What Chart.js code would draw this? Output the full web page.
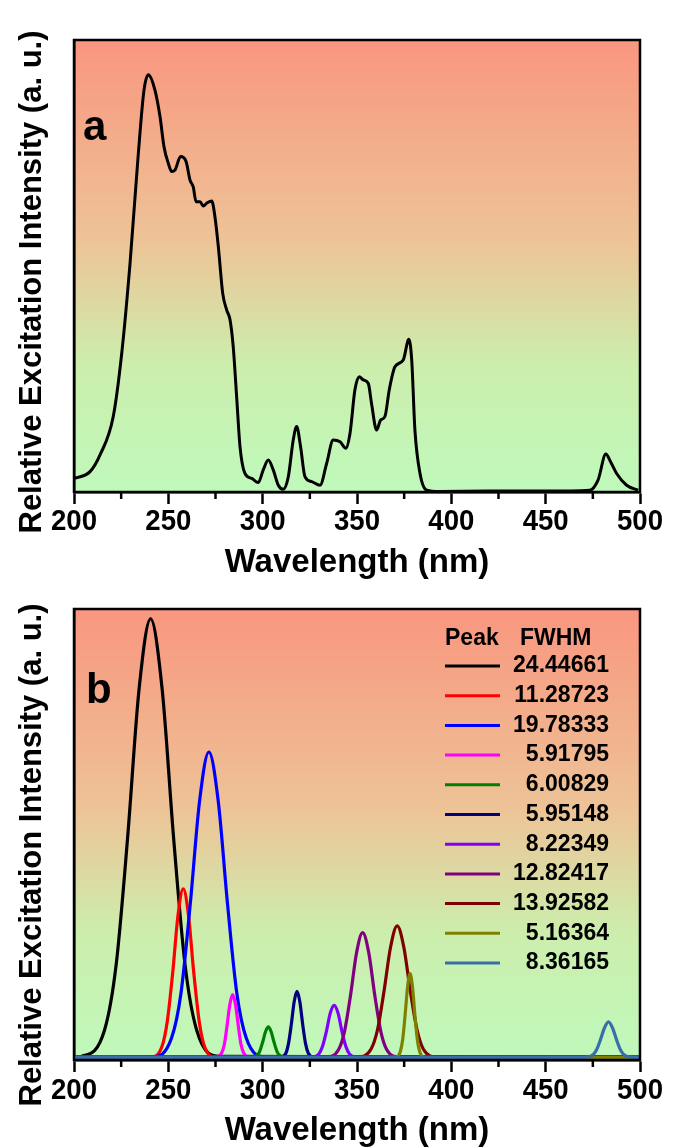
<!DOCTYPE html>
<html>
<head>
<meta charset="utf-8">
<script src="https://cdn.jsdelivr.net/npm/chart.js@4.4.1/dist/chart.umd.min.js"></script>
<style>
html, body { margin: 0; padding: 0; background: #fff; overflow: hidden; }
#wrapA { position: absolute; left: 0; top: 0; width: 680px; height: 590px; }
#wrapB { position: absolute; left: 0; top: 590px; width: 680px; height: 580px; }
</style>
</head>
<body>
<div id="wrapA"><canvas id="chartA" width="680" height="590"></canvas></div>
<div id="wrapB"><canvas id="chartB" width="680" height="580"></canvas></div>
<script>
// panel a: measured excitation spectrum
const waveA = [200, 208.5, 213.8, 220.8, 225.3, 229.7, 234.1, 237.1, 239.4, 242.9, 245.6, 247.7, 250.0, 251.8, 253.5, 256.5, 259.4, 261.5, 263.2, 264.7, 266.8, 268.5, 270.6, 273.0, 274.7, 276.5, 278.8, 280.9, 282.7, 284.4, 286.2, 288.0, 290.6, 294.2, 297.7, 300.3, 303.0, 305.6, 308.3, 310.9, 313.6, 316.2, 318.0, 320.1, 322.4, 326.0, 330.4, 333.9, 337.4, 341.0, 344.1, 346.3, 348.9, 351.2, 353.3, 356.0, 357.7, 360.4, 362.5, 364.8, 367.1, 370.1, 374.5, 377.5, 379.0, 380.7, 383.4, 386.9, 393.9, 420, 450, 473.4, 477.8, 481.9, 484.4, 487.6, 492.9, 499];
const intensityA = [3.0, 4.5, 8.2, 16.7, 30.7, 50.6, 74.9, 88.9, 92.3, 88.9, 83.0, 76.4, 72.7, 70.9, 71.2, 74.2, 73.1, 69.0, 67.5, 64.2, 64.2, 63.3, 64.0, 64.4, 60.9, 54.3, 44.0, 40.3, 38.1, 32.1, 21.1, 10.0, 4.1, 3.0, 2.1, 4.9, 7.1, 4.9, 1.5, 0.6, 3.4, 11.5, 14.5, 10.0, 3.4, 2.3, 1.5, 6.3, 11.5, 11.1, 9.7, 13.0, 22.6, 25.5, 24.8, 24.0, 19.6, 13.7, 15.9, 16.7, 22.6, 27.7, 29.2, 33.8, 29.2, 13.7, 4.1, 0.4, 0.1, 0.2, 0.2, 0.4, 2.7, 8.4, 6.7, 4.1, 1.5, 0.4];

// panel b: fitted peaks, [wavelength, intensity]
const fitPeak1 = [[200, 0], [203.9, 0.2], [216.2, 6.1], [222.3, 20.5], [228.4, 48.9], [234.5, 82.2], [240.6, 97.8], [246.7, 82.2], [252.8, 48.9], [258.9, 20.5], [265.0, 6.1], [277.3, 0.2], [500, 0]];
const fitPeak2 = [[200, 0], [241.0, 0.1], [246.6, 2.4], [249.4, 7.9], [252.3, 18.8], [255.1, 31.6], [257.9, 37.6], [260.7, 31.6], [263.5, 18.8], [266.4, 7.9], [269.2, 2.4], [274.8, 0.1], [500, 0]];
const fitPeak3 = [[200, 0], [241.8, 0.1], [251.7, 4.3], [256.7, 14.3], [261.6, 34.1], [266.6, 57.3], [271.5, 68.1], [276.4, 57.3], [281.4, 34.1], [286.3, 14.3], [291.3, 4.3], [301.2, 0.1], [500, 0]];
const fitPeak4 = [[200, 0], [275.2, 0], [278.2, 0.9], [279.7, 2.9], [281.1, 7.0], [282.6, 11.8], [284.1, 14.0], [285.6, 11.8], [287.1, 7.0], [288.5, 2.9], [290.0, 0.9], [293.0, 0], [500, 0]];
const fitPeak5 = [[200, 0], [294.0, 0], [297.0, 0.4], [298.5, 1.4], [300.0, 3.4], [301.5, 5.7], [303.0, 6.8], [304.5, 5.7], [306.0, 3.4], [307.5, 1.4], [309.0, 0.4], [312.0, 0], [500, 0]];
const fitPeak6 = [[200, 0], [309.3, 0], [312.3, 0.9], [313.7, 3.1], [315.2, 7.4], [316.7, 12.4], [318.2, 14.7], [319.7, 12.4], [321.2, 7.4], [322.7, 3.1], [324.2, 0.9], [327.1, 0], [500, 0]];
const fitPeak7 = [[200, 0], [325.6, 0], [329.7, 0.7], [331.7, 2.4], [333.8, 5.8], [335.8, 9.8], [337.9, 11.6], [340.0, 9.8], [342.0, 5.8], [344.1, 2.4], [346.1, 0.7], [350.2, 0], [500, 0]];
const fitPeak8 = [[200, 0], [333.8, 0.1], [340.2, 1.7], [343.4, 5.8], [346.6, 13.9], [349.8, 23.4], [353.0, 27.8], [356.2, 23.4], [359.4, 13.9], [362.6, 5.8], [365.8, 1.7], [372.2, 0.1], [500, 0]];
const fitPeak9 = [[200, 0], [350.4, 0.1], [357.4, 1.8], [360.9, 6.2], [364.3, 14.7], [367.8, 24.6], [371.3, 29.3], [374.8, 24.6], [378.3, 14.7], [381.8, 6.2], [385.2, 1.8], [392.2, 0.1], [500, 0]];
const fitPeak10 = [[200, 0], [370.4, 0], [372.9, 1.2], [374.2, 3.9], [375.5, 9.4], [376.8, 15.7], [378.1, 18.7], [379.4, 15.7], [380.7, 9.4], [382.0, 3.9], [383.3, 1.2], [385.8, 0], [500, 0]];
const fitPeak11 = [[200, 0], [470.8, 0], [474.9, 0.5], [477.0, 1.7], [479.1, 4.0], [481.2, 6.6], [483.3, 7.9], [485.4, 6.6], [487.5, 4.0], [489.6, 1.7], [491.7, 0.5], [495.8, 0], [500, 0]];
const fwhmLabels = ['24.44661', '11.28723', '19.78333', '5.91795', '6.00829', '5.95148', '8.22349', '12.82417', '13.92582', '5.16364', '8.36165'];

const xTicks = [200, 250, 300, 350, 400, 450, 500];
const xMinorTicks = [225, 275, 325, 375, 425, 475];

const fits = [fitPeak1, fitPeak2, fitPeak3, fitPeak4, fitPeak5, fitPeak6, fitPeak7, fitPeak8, fitPeak9, fitPeak10, fitPeak11];
const fitColors = ['#000000', '#FF0000', '#0000FF', '#FF00FF', '#008000', '#000080', '#8000FF', '#800080', '#800000', '#808000', '#3A6EA8'];

const boldFont = "'Liberation Sans', Arial, sans-serif";

// text with a slight horizontal squeeze, the figure's digits are narrow
function squeezed(ctx, text, x, y, sx) {
    ctx.save();
    ctx.translate(x, y);
    ctx.scale(sx, 1);
    ctx.fillText(text, 0, 0);
    ctx.restore();
}

const panelPlugin = {
    id: 'panel',
    beforeDraw(chart) {
        const {ctx, chartArea: a} = chart;
        const g = ctx.createLinearGradient(0, a.top, 0, a.bottom);
        g.addColorStop(0, '#F9967F');
        g.addColorStop(0.45, '#EDC497');
        g.addColorStop(0.72, '#CCEEAD');
        g.addColorStop(1, '#BFF9BB');
        ctx.save();
        ctx.fillStyle = g;
        ctx.fillRect(a.left, a.top, a.right - a.left, a.bottom - a.top);
        ctx.restore();
    },
    afterDraw(chart, args, opts) {
        const {ctx, chartArea: a} = chart;
        const xs = chart.scales.x;
        ctx.save();
        // minor ticks
        ctx.strokeStyle = '#000';
        ctx.lineWidth = 2.5;
        xMinorTicks.forEach(v => {
            const px = xs.getPixelForValue(v);
            ctx.beginPath();
            ctx.moveTo(px, a.bottom);
            ctx.lineTo(px, a.bottom + 7);
            ctx.stroke();
        });
        // frame
        ctx.strokeRect(a.left, a.top, a.right - a.left, a.bottom - a.top);

        ctx.fillStyle = '#000';
        ctx.textAlign = 'center';
        ctx.textBaseline = 'middle';
        // x tick labels and title
        ctx.font = 'bold 30px ' + boldFont;
        xTicks.forEach(v => {
            squeezed(ctx, String(v), xs.getPixelForValue(v), a.bottom + opts.tickOffset, 0.92);
        });
        ctx.font = 'bold 33px ' + boldFont;
        ctx.fillText('Wavelength (nm)', (a.left + a.right) / 2, a.bottom + 71);

        // y title
        ctx.font = 'bold 31px ' + boldFont;
        ctx.textBaseline = 'alphabetic';
        ctx.translate(41, opts.titleY);
        ctx.rotate(-Math.PI / 2);
        ctx.fillText('Relative Excitation Intensity (a. u.)', 0, 0);
        ctx.restore();

        // panel letter
        ctx.save();
        ctx.fillStyle = '#000';
        ctx.font = 'bold 42px ' + boldFont;
        ctx.textAlign = 'left';
        ctx.textBaseline = 'alphabetic';
        ctx.fillText(opts.label, opts.labelX, opts.labelY);
        ctx.restore();
    }
};

const legendPlugin = {
    id: 'fitLegend',
    afterDatasetsDraw(chart) {
        const ctx = chart.ctx;
        ctx.save();
        ctx.fillStyle = '#000';
        ctx.font = 'bold 23px ' + boldFont;
        ctx.textBaseline = 'middle';
        ctx.textAlign = 'left';
        ctx.fillText('Peak', 445, 49);
        ctx.fillText('FWHM', 520, 49);
        fwhmLabels.forEach((label, i) => {
            const y = 76 + i * 29.7;
            ctx.strokeStyle = fitColors[i];
            ctx.lineWidth = 3;
            ctx.beginPath();
            ctx.moveTo(445, y);
            ctx.lineTo(500, y);
            ctx.stroke();
            ctx.textAlign = 'right';
            ctx.fillText(label, 609, y);
        });
        ctx.restore();
    }
};

function axes(xHeight, yMin) {
    return {
        x: {
            type: 'linear',
            min: 200,
            max: 500,
            afterBuildTicks: s => { s.ticks = xTicks.map(v => ({value: v})); },
            ticks: {color: 'rgba(0,0,0,0)', maxRotation: 0, autoSkip: false},
            grid: {drawOnChartArea: false, color: '#000', tickLength: 12, tickWidth: 2.5},
            border: {display: true, color: '#000', width: 2.5},
            title: {display: false},
            afterFit: s => { s.height = xHeight; }
        },
        y: {
            min: yMin,
            max: 100,
            ticks: {display: false},
            grid: {display: false},
            border: {display: true, color: '#000', width: 2.5},
            afterFit: s => { s.width = 74; }
        }
    };
}

new Chart(document.getElementById('chartA'), {
    type: 'line',
    data: {
        datasets: [{
            data: waveA.map((w, i) => ({x: w, y: intensityA[i]})),
            borderColor: '#000',
            borderWidth: 3,
            pointRadius: 0,
            cubicInterpolationMode: 'monotone'
        }]
    },
    options: {
        responsive: false,
        devicePixelRatio: 1,
        animation: false,
        events: [],
        layout: {padding: {left: 0, right: 40, top: 40, bottom: 0}},
        scales: axes(98, 0),
        plugins: {
            legend: {display: false},
            tooltip: {enabled: false},
            panel: {label: 'a', labelX: 83, labelY: 140, titleY: 282, tickOffset: 30}
        }
    },
    plugins: [panelPlugin]
});

new Chart(document.getElementById('chartB'), {
    type: 'line',
    data: {
        datasets: fits.map((pts, i) => ({
            data: pts.map(p => ({x: p[0], y: p[1]})),
            borderColor: fitColors[i],
            borderWidth: 3.2,
            pointRadius: 0,
            cubicInterpolationMode: 'monotone',
            order: fits.length - 1 - i
        }))
    },
    options: {
        responsive: false,
        devicePixelRatio: 1,
        animation: false,
        events: [],
        layout: {padding: {left: 0, right: 40, top: 19, bottom: 0}},
        scales: axes(110, -0.6),
        plugins: {
            legend: {display: false},
            tooltip: {enabled: false},
            panel: {label: 'b', labelX: 86, labelY: 113, titleY: 265, tickOffset: 31}
        }
    },
    plugins: [panelPlugin, legendPlugin]
});
</script>
</body>
</html>
